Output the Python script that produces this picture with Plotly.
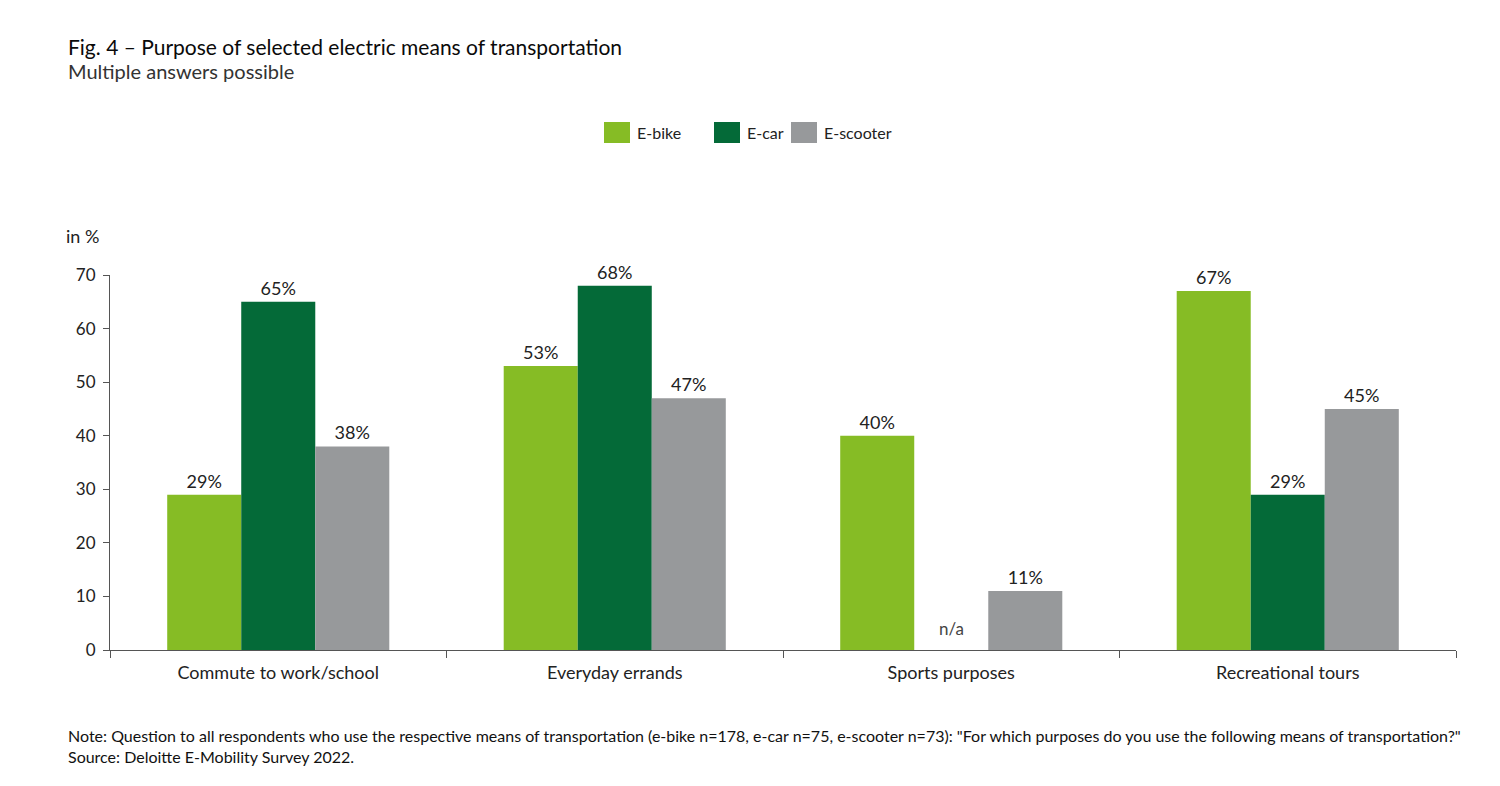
import plotly.graph_objects as go

categories = ["Commute to work/school", "Everyday errands", "Sports purposes", "Recreational tours"]
series_names = ["E-bike", "E-car", "E-scooter"]
ebike = [29, 53, 40, 67]
ecar = [65, 68, None, 29]
escooter = [38, 47, 11, 45]
y_ticks = [0, 10, 20, 30, 40, 50, 60, 70]
colors = ["#86BC25", "#046A38", "#97999B"]

FONT = "Lato, 'Open Sans', sans-serif"
TXT = "#222222"

# page has an 8px body margin; work in screen pixels
OFF = 8
W, H = 1500 - 2 * OFF, 786 - 2 * OFF
X0, X1, Y0, Y1 = 110, 1456, 275, 650  # plot area in screen px
L, R, T, B = X0 - OFF, W - (X1 - OFF), Y0 - OFF, H - (Y1 - OFF)


def py(y_px):
    return (Y1 - y_px) / (Y1 - Y0)


def px(x_px):
    return (x_px - X0) / (X1 - X0)


fig = go.Figure()
for name, vals, col in zip(series_names, [ebike, ecar, escooter], colors):
    fig.add_trace(go.Bar(
        name=name, x=categories, y=vals,
        marker=dict(color=col, line=dict(width=0)),
        text=[f"{v}%" if v is not None else "" for v in vals],
        textposition="outside", cliponaxis=False,
        textfont=dict(size=18, color=TXT, family=FONT),
        showlegend=False,
    ))

annotations = [
    dict(text="Fig. 4 – Purpose of selected electric means of transportation",
         xref="paper", yref="paper", x=px(66), y=py(46), xanchor="left", yanchor="middle",
         showarrow=False, font=dict(size=21, color="#0a0a0a", family=FONT)),
    dict(text="Multiple answers possible",
         xref="paper", yref="paper", x=px(66), y=py(71), xanchor="left", yanchor="middle",
         showarrow=False, font=dict(size=20, color="#333333", family=FONT)),
    dict(text="in %", xref="paper", yref="paper", x=px(64), y=py(236),
         xanchor="left", yanchor="middle", showarrow=False,
         font=dict(size=18, color=TXT, family=FONT)),
    dict(text="n/a", xref="x", yref="y", x=categories[2], y=4,
         xanchor="center", yanchor="middle", showarrow=False,
         font=dict(size=17, color="#444444", family=FONT)),
    dict(text='Note: Question to all respondents who use the respective means of transportation (e-bike n=178, e-car n=75, e-scooter n=73): "For which purposes do you use the following means of transportation?"',
         xref="paper", yref="paper", x=px(66), y=py(735), xanchor="left", yanchor="middle",
         showarrow=False, font=dict(size=16, color="#111111", family=FONT)),
    dict(text="Source: Deloitte E-Mobility Survey 2022.",
         xref="paper", yref="paper", x=px(66), y=py(756), xanchor="left", yanchor="middle",
         showarrow=False, font=dict(size=16, color="#111111", family=FONT)),
]

# custom legend (large square swatches)
shapes = []
legend_swatch_x = [604, 714, 791]
for name, col, sx in zip(series_names, colors, legend_swatch_x):
    shapes.append(dict(type="rect", xref="paper", yref="paper",
                       x0=px(sx), x1=px(sx + 26), y0=py(143), y1=py(122),
                       fillcolor=col, line=dict(width=0)))
    annotations.append(dict(text=name, xref="paper", yref="paper", x=px(sx + 31), y=py(132),
                            xanchor="left", yanchor="middle", showarrow=False,
                            font=dict(size=16, color=TXT, family=FONT)))

fig.update_layout(
    width=W, height=H,
    margin=dict(l=L, r=R, t=T, b=B),
    paper_bgcolor="white", plot_bgcolor="white",
    barmode="group", bargap=0.34, bargroupgap=0,
    font=dict(family=FONT, size=16, color=TXT),
    showlegend=False,
    xaxis=dict(showline=True, linecolor="#555555", linewidth=1, ticks="outside",
               tickson="boundaries", ticklen=7, tickcolor="#555555",
               tickfont=dict(size=18, color=TXT), showgrid=False, zeroline=False,
               ticklabelstandoff=6),
    yaxis=dict(range=[0, 70], tickvals=y_ticks, showline=True, linecolor="#555555",
               linewidth=1, ticks="outside", ticklen=6, tickcolor="#555555",
               tickfont=dict(size=17, color=TXT), showgrid=False, zeroline=False,
               ticklabelstandoff=4),
    shapes=shapes,
    annotations=annotations,
)

fig.write_html("out.html")
